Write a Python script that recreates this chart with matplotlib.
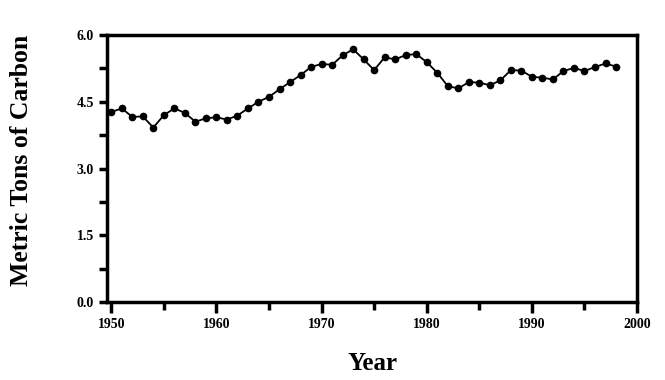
import numpy as np
import matplotlib.pyplot as plt
from matplotlib.ticker import MultipleLocator

# per-capita carbon emissions, 1950-1998
years = np.arange(1950, 1999)
tons = [4.27, 4.35, 4.16, 4.17, 3.92, 4.20, 4.35, 4.25, 4.05, 4.13,
        4.15, 4.10, 4.19, 4.35, 4.50, 4.61, 4.78, 4.94, 5.10, 5.28,
        5.35, 5.33, 5.54, 5.68, 5.45, 5.21, 5.50, 5.45, 5.55, 5.57,
        5.39, 5.15, 4.85, 4.80, 4.94, 4.93, 4.87, 4.98, 5.21, 5.20,
        5.06, 5.04, 5.00, 5.19, 5.26, 5.19, 5.28, 5.36, 5.29]

plt.rcParams['font.family'] = ['Liberation Serif', 'DejaVu Serif']

fig = plt.figure(figsize=(6.65, 3.8), dpi=100)
ax = fig.add_axes([0.161, 0.205, 0.797, 0.703])

ax.plot(years, tons, color='black', linewidth=1.3, marker='o', markersize=4.5)

ax.set_xlim(1949.6, 2000)
ax.set_ylim(0, 6)
ax.xaxis.set_major_locator(MultipleLocator(10))
ax.xaxis.set_minor_locator(MultipleLocator(5))
ax.yaxis.set_major_locator(MultipleLocator(1.5))
ax.yaxis.set_minor_locator(MultipleLocator(0.75))
ax.yaxis.set_major_formatter(plt.FormatStrFormatter('%.1f'))

for s in ax.spines.values():
    s.set_linewidth(2.5)
ax.tick_params(which='major', direction='out', length=8, width=2.5, labelsize=10)
ax.tick_params(which='minor', direction='out', length=6, width=2.5)
ax.tick_params(axis='y', which='both', length=6)
for lbl in ax.get_xticklabels() + ax.get_yticklabels():
    lbl.set_fontweight('semibold')

ax.set_xlabel('Year', fontsize=18, fontweight='bold', labelpad=15)
ax.set_ylabel('Metric Tons of Carbon', fontsize=18.5, fontweight='bold')
ax.yaxis.set_label_coords(-0.14, 0.53)

fig.savefig('out.png', dpi=100)
